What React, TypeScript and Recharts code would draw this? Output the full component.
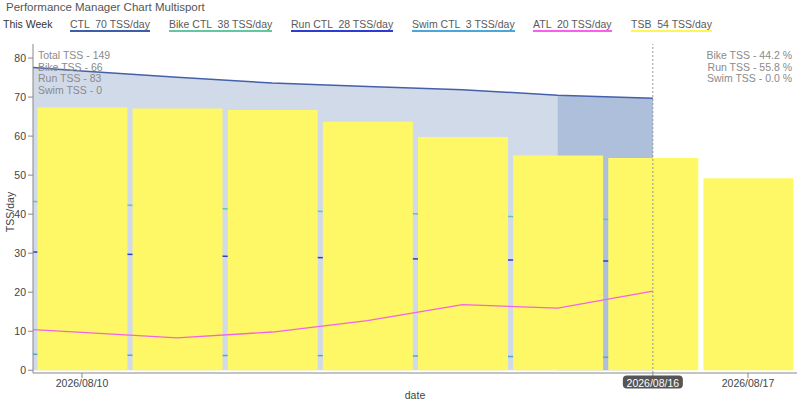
import { ComposedChart, Area, Bar, Line, XAxis, YAxis, ReferenceLine } from "recharts";

const dates = [
  "2026/08/10",
  "2026/08/11",
  "2026/08/12",
  "2026/08/13",
  "2026/08/14",
  "2026/08/15",
  "2026/08/16",
  "2026/08/17",
];

// TSB bars, one per day
const tsb = [67.3, 67.1, 66.7, 63.7, 59.8, 55.0, 54.4, 49.2];
// fitness lines, they stop at 08/16
const ctl = [76.7, 75.1, 73.6, 72.7, 71.9, 70.5, 69.7];
const bikeCtl = [42.8, 41.8, 41.0, 40.4, 39.8, 39.0, 38.3];
const runCtl = [30.0, 29.4, 29.0, 28.7, 28.4, 28.1, 27.9];
const swimCtl = [3.9, 3.8, 3.8, 3.7, 3.6, 3.4, 3.3];
const atl = [9.7, 8.3, 9.8, 12.7, 16.8, 15.9, 20.3];

// the day before (08/09), only its last half day runs into the plot, the rest is clipped
const dayBefore = { ctl: 78.45, bike: 43.6, run: 30.6, swim: 4.3, atl: 11.1 };

const currentFrom = 5; // 08/15 -> 08/16 shaded darker
const hoverDay = 6; // 08/16
const xTicks = [0, 6, 7];
const yTicks = [0, 10, 20, 30, 40, 50, 60, 70, 80];

const legend = [
  { name: "CTL", value: 70, color: "#3d5fa8", left: 70 },
  { name: "Bike CTL", value: 38, color: "#63c7a2", left: 169 },
  { name: "Run CTL", value: 28, color: "#2c3ed2", left: 291 },
  { name: "Swim CTL", value: 3, color: "#4aa8d8", left: 412 },
  { name: "ATL", value: 20, color: "#fb5eef", left: 533 },
  { name: "TSB", value: 54, color: "#fff55a", left: 631 },
];
const totals = ["Total TSS - 149", "Bike TSS - 66", "Run TSS - 83", "Swim TSS - 0"];
const shares = ["Bike TSS - 44.2 %", "Run TSS - 55.8 %", "Swim TSS - 0.0 %"];

const rows = [
  { x: -1, ctl: dayBefore.ctl, ctlNow: null, bike: dayBefore.bike, run: dayBefore.run, swim: dayBefore.swim, atl: dayBefore.atl },
  ...dates.map((d, i) => ({
    x: i,
    tsb: tsb[i],
    ctl: ctl[i],
    ctlNow: i >= currentFrom ? ctl[i] : null,
    bike: bikeCtl[i],
    run: runCtl[i],
    swim: swimCtl[i],
    atl: atl[i],
  })),
];

const font = "'Liberation Sans', Arial, sans-serif";

function DateTick(props: any) {
  const { x, y, payload } = props;
  const label = dates[payload.value];
  if (payload.value === hoverDay) {
    return (
      <g>
        <rect x={x - 30} y={y - 4.5} width={60} height={13} rx={4} fill="#555" />
        <text x={x} y={y} dy="0.71em" textAnchor="middle" fontSize={10.5} fill="#fff">
          {label}
        </text>
      </g>
    );
  }
  return (
    <text x={x} y={y} dy="0.71em" textAnchor="middle" fontSize={10.5} fill="#444">
      {label}
    </text>
  );
}

export default function App() {
  return (
    <div style={{ position: "absolute", left: 0, top: 0, width: 800, height: 402, fontFamily: font }}>
      <div style={{ position: "absolute", left: 6, top: 0, fontSize: 11.5, lineHeight: "14px", color: "#555" }}>
        Performance Manager Chart Multisport
      </div>
      <div style={{ position: "absolute", left: 3, top: 19, fontSize: 10.5, lineHeight: "11px", color: "#333" }}>
        This Week
      </div>
      {legend.map((l) => (
        <div
          key={l.name}
          style={{
            position: "absolute",
            left: l.left,
            top: 19,
            fontSize: 10.5,
            lineHeight: "11px",
            color: "#5a5a5a",
            whiteSpace: "pre",
            borderBottom: `2px solid ${l.color}`,
          }}
        >
          {`${l.name}  ${l.value} TSS/day`}
        </div>
      ))}

      <ComposedChart
        width={800}
        height={402}
        data={rows}
        margin={{ top: 44, right: 3, bottom: 0, left: 0 }}
        style={{ fontFamily: font }}
      >
        <XAxis
          dataKey="x"
          type="number"
          domain={[-0.515, 7.515]}
          allowDataOverflow
          ticks={xTicks}
          interval={0}
          height={29}
          tick={<DateTick />}
          tickSize={5}
          stroke="#888"
        />
        <YAxis
          type="number"
          domain={[-0.7, 83.6]}
          allowDataOverflow
          ticks={yTicks}
          width={33}
          tickSize={5}
          stroke="#888"
          tick={{ fontSize: 10.5, fill: "#444" }}
        />
        <Area dataKey="ctl" type="linear" stroke="none" fill="#d1dae9" fillOpacity={1} dot={false} activeDot={false} isAnimationActive={false} />
        <Area dataKey="ctlNow" type="linear" stroke="none" fill="#adbfda" fillOpacity={1} dot={false} activeDot={false} isAnimationActive={false} />
        <Area dataKey="bike" type="linear" stroke="#63c7a2" strokeWidth={1.5} fill="none" fillOpacity={0} dot={false} activeDot={false} isAnimationActive={false} />
        <Area dataKey="run" type="linear" stroke="#2c3ed2" strokeWidth={1.5} fill="none" fillOpacity={0} dot={false} activeDot={false} isAnimationActive={false} />
        <Area dataKey="swim" type="linear" stroke="#4aa8d8" strokeWidth={1.5} fill="none" fillOpacity={0} dot={false} activeDot={false} isAnimationActive={false} />
        <Bar dataKey="tsb" fill="#fef866" barSize={90} isAnimationActive={false} />
        <Line dataKey="ctl" type="linear" stroke="#4560ab" strokeWidth={1.5} dot={false} activeDot={false} isAnimationActive={false} />
        <Line dataKey="atl" type="linear" stroke="#f263e3" strokeWidth={1.3} dot={false} activeDot={false} isAnimationActive={false} />
        <ReferenceLine x={hoverDay} stroke="#999" strokeDasharray="2 2" />
      </ComposedChart>

      <div style={{ position: "absolute", left: 38, top: 50, fontSize: 10.5, lineHeight: "11.7px", color: "#8a8a8a" }}>
        {totals.map((t) => (
          <div key={t}>{t}</div>
        ))}
      </div>
      <div style={{ position: "absolute", right: 8, top: 50, fontSize: 10.5, lineHeight: "11.7px", color: "#8a8a8a", textAlign: "right" }}>
        {shares.map((t) => (
          <div key={t}>{t}</div>
        ))}
      </div>
      <div
        style={{
          position: "absolute",
          left: 10,
          top: 212,
          fontSize: 10.5,
          color: "#444",
          transform: "translate(-50%, -50%) rotate(-90deg)",
          whiteSpace: "nowrap",
        }}
      >
        TSS/day
      </div>
      <div style={{ position: "absolute", left: 415, top: 395, fontSize: 10.5, color: "#444", transform: "translate(-50%, -50%)" }}>
        date
      </div>
    </div>
  );
}
